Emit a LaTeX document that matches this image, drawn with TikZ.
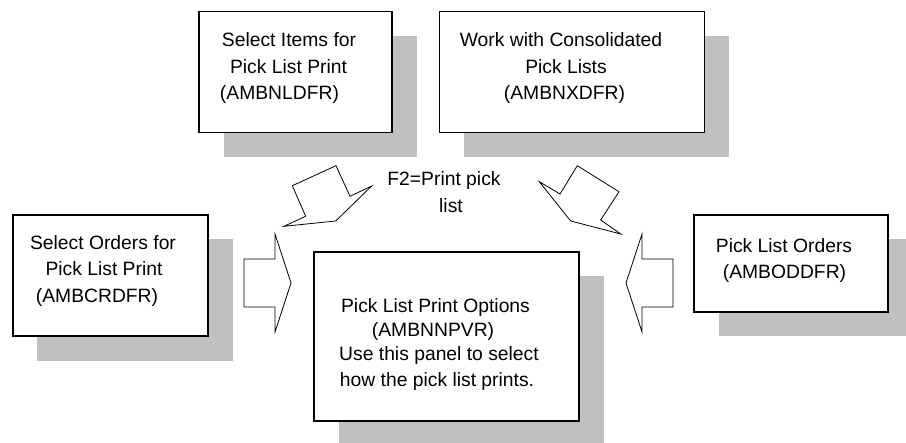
\documentclass[tikz,border=0pt]{standalone}
\usepackage{fontspec}
\setmainfont{Liberation Sans}
\definecolor{shadowgray}{HTML}{C0C0C0}
\tikzset{
  panel/.style={draw=black, line width=1.1bp, fill=white, inner sep=0pt, outer sep=0pt},
  shade/.style={fill=shadowgray, draw=none, inner sep=0pt, outer sep=0pt},
  lbl/.style={inner sep=0pt, anchor=base, font=\fontsize{19.3bp}{23bp}\selectfont},
  blockarrow/.style={draw=black, line width=0.8bp, fill=white, line join=miter}
}
\begin{document}
\begin{tikzpicture}[x=1bp,y=-1bp]
\useasboundingbox (0,0) rectangle (906,443);
\clip (0,0) rectangle (906,443);
% shadows
\node[shade, minimum width=193bp, minimum height=120.6bp] (s1) at (320,96.5) {};
\node[shade, minimum width=265.3bp, minimum height=120.6bp] (s2) at (596.2,96.5) {};
\node[shade, minimum width=195bp, minimum height=121bp] (s3) at (135,300) {};
\node[shade, minimum width=265bp, minimum height=169bp] (s4) at (471,361) {};
\node[shade, minimum width=194bp, minimum height=97bp] (s5) at (815.5,288) {};
% panels
\node[panel, minimum width=193bp, minimum height=120.6bp] (b1) at (295.5,72) {};
\node[panel, minimum width=265.3bp, minimum height=120.6bp] (b2) at (571.7,72) {};
\node[panel, minimum width=195bp, minimum height=121bp] (b3) at (110.5,275.5) {};
\node[panel, minimum width=265bp, minimum height=169bp] (b4) at (446.5,336.5) {};
\node[panel, minimum width=194bp, minimum height=97bp] (b5) at (791,263.5) {};
% texts
\node[lbl] (t1a) at (289,47) {Select Items for};
\node[lbl] (t1b) at (288.5,74) {Pick List Print};
\node[lbl] (t1c) at (279.5,100) {(AMBNLDFR)};
\node[lbl] (t2a) at (561,47) {Work with Consolidated};
\node[lbl] (t2b) at (566,74) {Pick Lists};
\node[lbl] (t2c) at (564.5,100) {(AMBNXDFR)};
\node[lbl] (t3a) at (103,249.3) {Select Orders for};
\node[lbl] (t3b) at (104,276) {Pick List Print};
\node[lbl] (t3c) at (97,303) {(AMBCRDFR)};
\node[lbl] (t4a) at (435.5,312.7) {Pick List Print Options};
\node[lbl] (t4b) at (433,336.7) {(AMBNNPVR)};
\node[lbl] (t4c) at (439,361) {Use this panel to select};
\node[lbl] (t4d) at (437,386.7) {how the pick list prints.};
\node[lbl] (t5a) at (784,252.7) {Pick List Orders};
\node[lbl] (t5b) at (784.5,278.3) {(AMBODDFR)};
\node[lbl] (f2a) at (444,186) {F2=Print pick};
\node[lbl] (f2b) at (451,212.7) {list};
% block arrows
\draw[blockarrow] (292.3,185.7) -- (336,165.7) -- (350,196.3) -- (371.7,186) -- (335.7,221) -- (284,226.3) -- (305.7,216.3) -- cycle;
\draw[blockarrow] (539.3,181.7) -- (560,194) -- (577.3,165.7) -- (619,191.7) -- (600.7,220) -- (620.7,234) -- (570.7,221) -- cycle;
\draw[blockarrow] (244,259) -- (275,259) -- (275,234) -- (291,283) -- (275,332) -- (275,307) -- (244,307) -- cycle;
\draw[blockarrow] (673,259) -- (642,259) -- (642,234) -- (626,283) -- (642,332) -- (642,307) -- (673,307) -- cycle;
\end{tikzpicture}
\end{document}
